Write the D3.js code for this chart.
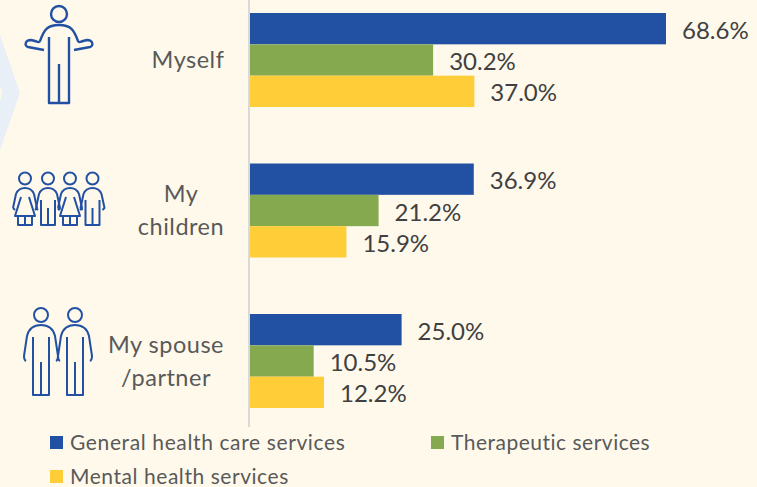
<!DOCTYPE html>
<html><head><meta charset="utf-8">
<script src="https://cdn.jsdelivr.net/npm/d3@7"></script>
<style>html,body{margin:0;padding:0;background:#FFF9EC}svg{display:block}text{font-family:Lato,"Open Sans",sans-serif}</style>
</head><body><svg id="c" width="757" height="487"></svg>
<script>
const categories = ["Myself","My children","My spouse /partner"];
const categoryLines = [["Myself"],["My","children"],["My spouse","/partner"]];
const seriesNames = ["General health care services","Therapeutic services","Mental health services"];
const general = [68.6,36.9,25.0];
const therapeutic = [30.2,21.2,10.5];
const mental = [37.0,15.9,12.2];
const colors = ["#2250A3","#85A94F","#FFCD38"];
const allSeries = [general,therapeutic,mental];

const svg = d3.select("#c");
svg.append("rect").attr("width",757).attr("height",487).attr("fill","#FFF9EC");
svg.append("path").attr("d","M0,35 L20,93 L0,150 Z").attr("fill","#E9EFF6");
svg.append("path").attr("d","M0,85 L2,93 L0,101 Z").attr("fill","#FFF9EC");

const x = d3.scaleLinear().domain([0,68.6]).range([250,666]);
const y0 = d3.scalePoint().domain(categories).range([60,361]);
const y1 = d3.scaleBand().domain(d3.range(3)).range([-47,47]);

svg.append("line").attr("x1",249).attr("x2",249).attr("y1",0).attr("y2",427)
  .attr("stroke","#D9D9D9").attr("stroke-width",2);

const labelX = [188,181,166];
const labelBase = [[68],[202,235],[353,386]];
const groups = svg.selectAll("g.cat").data(categories).join("g").attr("class","cat")
  .attr("transform",d=>`translate(0,${y0(d)})`);
groups.each(function(c,i){
  const g=d3.select(this);
  allSeries.forEach((s,k)=>{
    g.append("rect").attr("x",x(0)).attr("y",y1(k)).attr("width",x(s[i])-x(0))
      .attr("height",y1.bandwidth()).attr("fill",colors[k]);
    g.append("text").attr("x",x(s[i])+16).attr("y",y1(k)+y1.bandwidth()/2+10)
      .attr("font-size",24).attr("fill","#404040").text(s[i].toFixed(1)+"%");
  });
  categoryLines[i].forEach((t,j)=>{
    g.append("text").attr("x",labelX[i]).attr("text-anchor","middle")
      .attr("y",labelBase[i][j]-y0(c))
      .attr("font-size",23.5).attr("letter-spacing",0.5).attr("fill","#595959").text(t);
  });
});

const icon = svg.append("g").attr("fill","none").attr("stroke","#2250A3").attr("stroke-linejoin","round");
// Person with open arms
const p=icon.append("g").attr("transform","translate(59,0)").attr("stroke-width",2.4);
p.append("circle").attr("cx",0).attr("cy",14).attr("r",8);
p.append("path").attr("d","M-10,37 V103 H10 V37 M0,64 V103");
p.append("path").attr("d","M-19,41 C-15,30 -12,25 0,25 C12,25 15,30 19,41 C20,43 21,42 24,41 L28,40 C34,40 35,46 31,47 L15,50 M-19,41 C-20,43 -21,42 -24,41 L-28,40 C-34,40 -35,46 -31,47 L-15,50");
// Children
function child(cx,girl){
  const g=icon.append("g").attr("transform",`translate(${cx},172)`).attr("stroke-width",2);
  g.append("circle").attr("cx",0).attr("cy",6.5).attr("r",6);
  g.append("path").attr("d","M-12,36 L-9,22 C-7,17 -4,16 0,16 C4,16 7,17 9,22 L12,36 L10,38");
  if(girl){g.append("path").attr("d","M-12,36 L-10,38 M-4,25 L-10,44 H10 L4,25 M-7,44 V53 H7 V44 M0,44 V53");}
  else{g.append("path").attr("d","M-12,36 L-10,38 M-7,28 V53 H7 V28 M0,36 V53");}
}
[[25,true],[48,false],[70,true],[92.5,false]].forEach(d=>child(d[0],d[1]));
// Couple
function couple(cx){
  const g=icon.append("g").attr("transform",`translate(${cx},300)`).attr("stroke-width",2);
  g.append("circle").attr("cx",0).attr("cy",15).attr("r",7);
  g.append("path").attr("d","M-15,61 C-17,60 -17,58 -17,56 L-14,36 C-12,28 -7,25 0,25 C7,25 12,28 14,36 L17,56 C17,58 17,60 15,61");
  g.append("path").attr("d","M-8,37 V95 H8 V37 M0,62 V95");
}
couple(41);couple(75);

// Legend
const legend = [[50,433,0,0.62],[431,433,1,0.5],[50,467,2,0.55]];
legend.forEach(([lx,ly,k,ls])=>{
  svg.append("rect").attr("x",lx).attr("y",ly+3).attr("width",13).attr("height",13).attr("fill",colors[k]);
  svg.append("text").attr("x",lx+20).attr("y",ly+17).attr("font-size",21).attr("letter-spacing",ls)
    .attr("fill","#595959").text(seriesNames[k]);
});
</script></body></html>
